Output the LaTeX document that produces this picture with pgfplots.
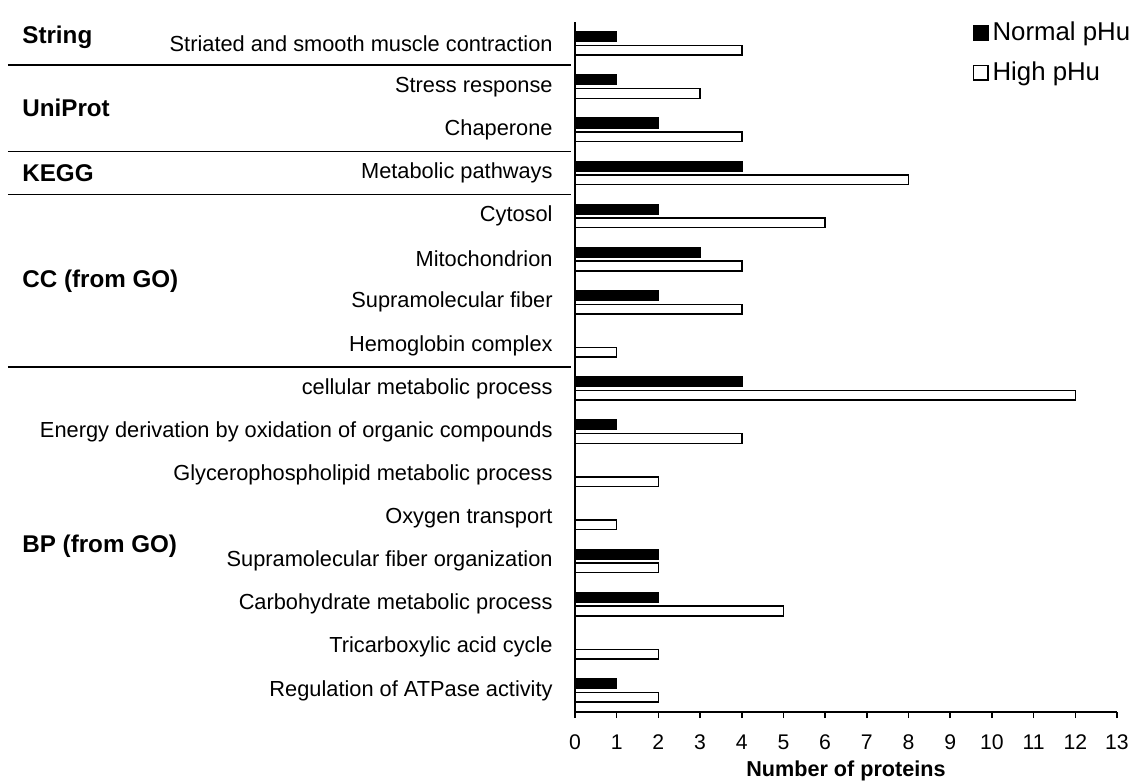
\documentclass[border=0pt]{standalone}
\usepackage{fontspec}
\setmainfont{Liberation Sans}
\usepackage{pgfplots}
\pgfplotsset{compat=1.18}
\begin{document}
\begin{tikzpicture}
\begin{axis}[
  at={(0,0)}, anchor=south west,
  scale only axis, width=271pt, height=345pt,
  xbar, bar width=4.8pt,
  xmin=0, xmax=13, ymin=-0.5, ymax=15.5,
  axis lines=left, axis line style={-, line width=0.75pt},
  xtick={0,...,13}, xtick align=outside, major tick length=3pt,
  xtick style={line width=0.75pt, black},
  /pgf/number format/assume math mode=true,
  x tick label style={font=\fontsize{10.6}{12}\selectfont, anchor=north, inner sep=0pt, text height=7.7pt, text depth=0pt, yshift=-8pt},
  ytick={0,...,15}, ytick style={draw=none},
  yticklabels={Regulation of ATPase activity, Tricarboxylic acid cycle, Carbohydrate metabolic process, Supramolecular fiber organization, Oxygen transport, Glycerophospholipid metabolic process, Energy derivation by oxidation of organic compounds, cellular metabolic process, Hemoglobin complex, Supramolecular fiber, Mitochondrion, Cytosol, Metabolic pathways, Chaperone, Stress response, Striated and smooth muscle contraction},
  y tick label style={font=\fontsize{10.9}{13}\selectfont, anchor=east, inner sep=0pt, xshift=-9.5pt},
  xlabel={Number of proteins},
  xlabel style={font=\bfseries\fontsize{10.8}{13}\selectfont, at={(axis description cs:0.5,0)}, anchor=center, yshift=-29.5pt},
  clip=false,
  legend style={at={(rel axis cs:0.733,1.006)}, anchor=north west, draw=none, fill=none,
    font=\fontsize{12.9}{15.5}\selectfont, row sep=5pt, inner sep=0pt},
  legend cell align=left,
  legend image code/.code={\draw[#1, line width=0.75pt] (0pt,-3.6pt) rectangle (7.2pt,3.6pt);},
]
\addplot[fill=black, draw=black, line width=0.75pt, bar shift=3.4pt] coordinates {
 (1,15) (1,14) (2,13) (4,12) (2,11) (3,10) (2,9) (0,8)
 (4,7) (1,6) (0,5) (0,4) (2,3) (2,2) (0,1) (1,0)};
\addplot[fill=white, draw=black, line width=0.75pt, bar shift=-3.4pt] coordinates {
 (4,15) (3,14) (4,13) (8,12) (6,11) (4,10) (4,9) (1,8)
 (12,7) (4,6) (2,5) (1,4) (2,3) (5,2) (2,1) (2,0)};
\legend{Normal pHu, High pHu}
\draw[line width=0.75pt] ([xshift=-283.5pt]axis cs:0,14.5) -- ([xshift=-2pt]axis cs:0,14.5);
\draw[line width=0.75pt] ([xshift=-283.5pt]axis cs:0,12.5) -- ([xshift=-2pt]axis cs:0,12.5);
\draw[line width=0.75pt] ([xshift=-283.5pt]axis cs:0,11.5) -- ([xshift=-2pt]axis cs:0,11.5);
\draw[line width=0.75pt] ([xshift=-283.5pt]axis cs:0,7.5) -- ([xshift=-2pt]axis cs:0,7.5);
\node[anchor=west, font=\bfseries\fontsize{12.1}{14}\selectfont, inner sep=0pt] at ([xshift=-276.5pt]axis cs:0,15.14) {String};
\node[anchor=west, font=\bfseries\fontsize{12.1}{14}\selectfont, inner sep=0pt] at ([xshift=-276.5pt]axis cs:0,13.5) {UniProt};
\node[anchor=west, font=\bfseries\fontsize{12.1}{14}\selectfont, inner sep=0pt] at ([xshift=-276.5pt]axis cs:0,12) {KEGG};
\node[anchor=west, font=\bfseries\fontsize{12.1}{14}\selectfont, inner sep=0pt] at ([xshift=-276.5pt]axis cs:0,9.5) {CC (from GO)};
\node[anchor=west, font=\bfseries\fontsize{12.1}{14}\selectfont, inner sep=0pt] at ([xshift=-276.5pt]axis cs:0,3.34) {BP (from GO)};
\end{axis}
\pgfresetboundingbox
\path (-287.5pt,-35.5pt) rectangle (278pt,356pt);
\end{tikzpicture}
\end{document}
